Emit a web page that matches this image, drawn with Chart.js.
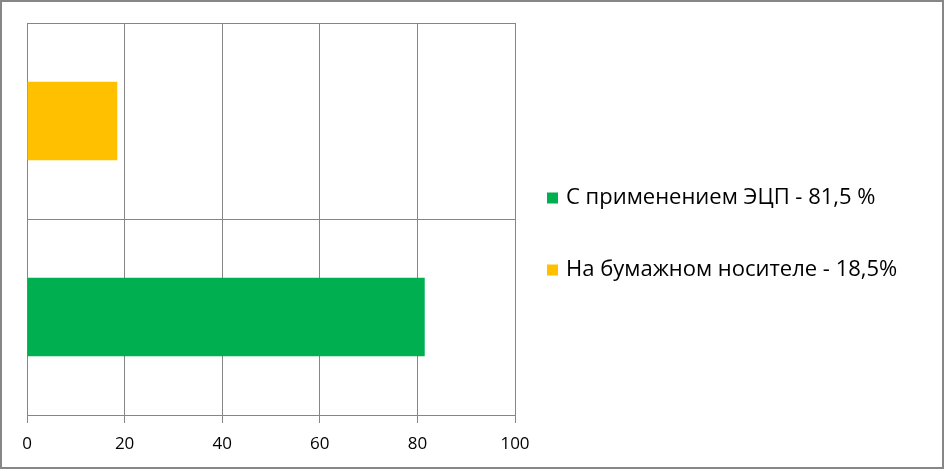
<!DOCTYPE html>
<html>
<head>
<meta charset="utf-8">
<script src="https://cdn.jsdelivr.net/npm/chart.js@4/dist/chart.umd.min.js"></script>
<style>
  html, body { margin: 0; padding: 0; background: #fff; }
  #wrap {
    width: 944px; height: 469px;
    box-sizing: border-box;
    border: 2px solid #878787;
  }
  canvas { display: block; }
</style>
</head>
<body>
<div id="wrap"><canvas id="chart" width="940" height="465"></canvas></div>
<script>
// chart values
const categories = ['С применением ЭЦП - 81,5 %', 'На бумажном носителе - 18,5%'];
const shares = [81.5, 18.5];
const barColors = ['#00B050', '#FFC000'];
const xMin = 0;
const xMax = 100;
const xStep = 20;

const gridColor = '#868686';
const fontFamily = '"Open Sans", "Noto Sans", sans-serif';

// Legend drawn to the right of the plot, Excel-like spacing
const sideLegend = {
  id: 'sideLegend',
  afterDraw(chart) {
    const { ctx, chartArea } = chart;
    const labels = chart.data.labels;
    const colors = chart.data.datasets[0].backgroundColor;
    const mid = (chartArea.top + chartArea.bottom) / 2;
    const rowGap = 72;
    const startY = mid - 21;
    const boxX = chartArea.right + 32;
    ctx.save();
    ctx.font = '22px ' + fontFamily;
    ctx.textBaseline = 'middle';
    labels.forEach((text, i) => {
      const y = startY + i * rowGap;
      ctx.fillStyle = colors[i];
      ctx.fillRect(boxX, y - 5.5, 11, 11);
      ctx.fillStyle = '#000';
      ctx.fillText(text, boxX + 19, y);
    });
    ctx.restore();
  }
};

new Chart(document.getElementById('chart'), {
  type: 'bar',
  data: {
    labels: categories,
    datasets: [{
      data: shares,
      backgroundColor: barColors,
      borderWidth: 0,
      categoryPercentage: 0.4,
      barPercentage: 1
    }]
  },
  options: {
    indexAxis: 'y',
    responsive: false,
    animation: false,
    layout: {
      padding: { left: 25, top: 21, right: 427, bottom: 0 }
    },
    plugins: {
      legend: { display: false },
      tooltip: { enabled: false }
    },
    scales: {
      x: {
        min: xMin,
        max: xMax,
        ticks: {
          stepSize: xStep,
          color: '#000',
          padding: 11,
          maxRotation: 0,
          font: { family: fontFamily, size: 17 }
        },
        grid: {
          color: gridColor,
          lineWidth: 1,
          tickLength: 8
        },
        border: { color: gridColor, width: 1 },
        afterFit(scale) { scale.height = 52; }
      },
      y: {
        reverse: true,
        offset: true,
        ticks: { display: false },
        grid: {
          offset: true,
          color: gridColor,
          lineWidth: 1,
          drawTicks: false
        },
        border: { color: gridColor, width: 1 }
      }
    }
  },
  plugins: [sideLegend]
});
</script>
</body>
</html>
